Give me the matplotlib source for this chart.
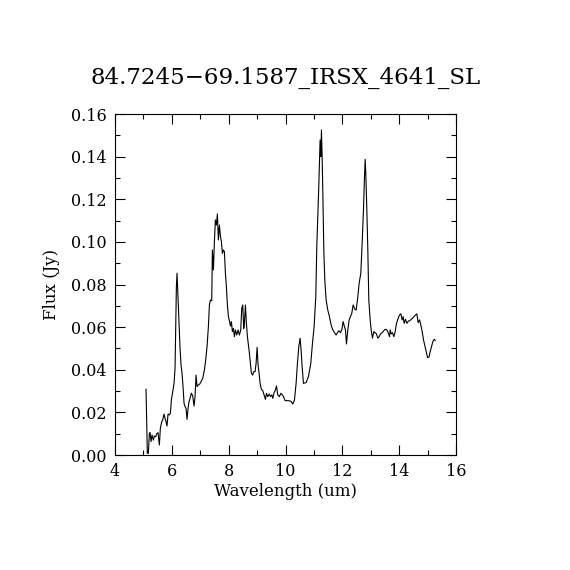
import matplotlib
matplotlib.use("Agg")
import matplotlib.pyplot as plt
from matplotlib.ticker import MultipleLocator

title = "84.7245\u221269.1587_IRSX_4641_SL"

wavelength = [
    5.092, 5.115, 5.138, 5.174, 5.209, 5.232, 5.268, 5.303, 5.350, 5.385,
    5.432, 5.467, 5.514, 5.561, 5.596, 5.643, 5.678, 5.725, 5.761, 5.796,
    5.831, 5.866, 5.913, 5.948, 5.984, 6.031, 6.078, 6.113, 6.136, 6.160,
    6.183, 6.218, 6.254, 6.289, 6.324, 6.359, 6.394, 6.430, 6.465, 6.500,
    6.535, 6.571, 6.606, 6.641, 6.688, 6.735, 6.782, 6.817, 6.852, 6.887,
    6.934, 6.981, 7.028, 7.087, 7.146, 7.192, 7.239, 7.286, 7.322, 7.357,
    7.404, 7.427, 7.463, 7.498, 7.533, 7.568, 7.603, 7.638, 7.674, 7.709,
    7.744, 7.779, 7.815, 7.850, 7.885, 7.920, 7.955, 7.991, 8.026, 8.061,
    8.096, 8.131, 8.167, 8.202, 8.237, 8.284, 8.331, 8.378, 8.425, 8.460,
    8.495, 8.531, 8.554, 8.589, 8.624, 8.660, 8.695, 8.730, 8.765, 8.801,
    8.847, 8.883, 8.930, 8.965, 9.000, 9.035, 9.071, 9.106, 9.153, 9.200,
    9.247, 9.294, 9.329, 9.376, 9.423, 9.470, 9.517, 9.552, 9.599, 9.646,
    9.681, 9.728, 9.786, 9.833, 9.892, 9.939, 9.986, 10.103, 10.197, 10.256,
    10.315, 10.373, 10.420, 10.467, 10.514, 10.549, 10.585, 10.632, 10.725, 10.808,
    10.890, 10.949, 11.007, 11.066, 11.101, 11.160, 11.195, 11.218, 11.242, 11.265,
    11.289, 11.312, 11.348, 11.383, 11.430, 11.488, 11.547, 11.606, 11.664, 11.723,
    11.782, 11.829, 11.876, 11.934, 11.981, 12.028, 12.075, 12.110, 12.146, 12.193,
    12.240, 12.287, 12.333, 12.380, 12.439, 12.486, 12.545, 12.592, 12.650, 12.697,
    12.744, 12.780, 12.803, 12.826, 12.862, 12.897, 12.932, 12.979, 13.014, 13.061,
    13.108, 13.155, 13.202, 13.249, 13.296, 13.343, 13.402, 13.460, 13.507, 13.566,
    13.613, 13.660, 13.683, 13.718, 13.765, 13.812, 13.859, 13.906, 13.953, 14.012,
    14.059, 14.106, 14.141, 14.176, 14.223, 14.270, 14.329, 14.376, 14.423, 14.470,
    14.517, 14.575, 14.622, 14.669, 14.716, 14.763, 14.810, 14.857, 14.904, 14.951,
    14.998, 15.045, 15.092, 15.138, 15.185, 15.232, 15.268,
]

flux = [
    0.0308, 0.0156, 0.0008, 0.0008, 0.0102, 0.0105, 0.0063, 0.0094, 0.0070, 0.0089,
    0.0086, 0.0099, 0.0105, 0.0047, 0.0125, 0.0156, 0.0164, 0.0192, 0.0172, 0.0156,
    0.0136, 0.0192, 0.0188, 0.0196, 0.0258, 0.0297, 0.0336, 0.0407, 0.0610, 0.0790,
    0.0853, 0.0743, 0.0618, 0.0501, 0.0422, 0.0383, 0.0321, 0.0242, 0.0227, 0.0219,
    0.0167, 0.0219, 0.0250, 0.0266, 0.0290, 0.0277, 0.0230, 0.0274, 0.0375, 0.0321,
    0.0329, 0.0333, 0.0344, 0.0360, 0.0399, 0.0446, 0.0508, 0.0602, 0.0704, 0.0727,
    0.0724, 0.0962, 0.0868, 0.1001, 0.1103, 0.1079, 0.1131, 0.1009, 0.1079, 0.1028,
    0.1001, 0.0946, 0.0962, 0.0954, 0.0853, 0.0790, 0.0704, 0.0649, 0.0630, 0.0605,
    0.0626, 0.0579, 0.0594, 0.0555, 0.0587, 0.0563, 0.0587, 0.0563, 0.0587, 0.0688,
    0.0704, 0.0594, 0.0618, 0.0704, 0.0618, 0.0555, 0.0516, 0.0477, 0.0430, 0.0383,
    0.0375, 0.0391, 0.0391, 0.0430, 0.0505, 0.0422, 0.0383, 0.0336, 0.0308, 0.0302,
    0.0282, 0.0261, 0.0289, 0.0274, 0.0286, 0.0274, 0.0282, 0.0266, 0.0293, 0.0305,
    0.0324, 0.0282, 0.0274, 0.0289, 0.0282, 0.0271, 0.0255, 0.0255, 0.0252, 0.0239,
    0.0258, 0.0336, 0.0430, 0.0508, 0.0548, 0.0493, 0.0415, 0.0336, 0.0340, 0.0368,
    0.0430, 0.0524, 0.0602, 0.0743, 0.0978, 0.1212, 0.1369, 0.1478, 0.1400, 0.1525,
    0.1400, 0.1244, 0.0962, 0.0821, 0.0727, 0.0680, 0.0649, 0.0610, 0.0587, 0.0574,
    0.0563, 0.0574, 0.0583, 0.0574, 0.0587, 0.0626, 0.0602, 0.0587, 0.0521, 0.0587,
    0.0634, 0.0649, 0.0665, 0.0704, 0.0684, 0.0680, 0.0743, 0.0806, 0.0853, 0.0993,
    0.1150, 0.1306, 0.1387, 0.1322, 0.1150, 0.0962, 0.0727, 0.0634, 0.0587, 0.0548,
    0.0579, 0.0574, 0.0568, 0.0548, 0.0555, 0.0568, 0.0574, 0.0583, 0.0590, 0.0587,
    0.0574, 0.0555, 0.0587, 0.0568, 0.0574, 0.0555, 0.0579, 0.0618, 0.0637, 0.0657,
    0.0662, 0.0634, 0.0649, 0.0618, 0.0637, 0.0618, 0.0629, 0.0630, 0.0637, 0.0641,
    0.0649, 0.0657, 0.0662, 0.0621, 0.0634, 0.0610, 0.0579, 0.0540, 0.0512, 0.0485,
    0.0458, 0.0458, 0.0485, 0.0508, 0.0532, 0.0543, 0.0537,
]

plt.rcParams["font.family"] = ["DejaVu Serif"]

fig = plt.figure(figsize=(5.7, 5.7), dpi=100)
ax = fig.add_axes([115 / 570, 115 / 570, 341 / 570, 341 / 570])

ax.plot(wavelength, flux, color="black", linewidth=0.8)

ax.set_xlim(4, 16)
ax.set_ylim(0, 0.16)
ax.xaxis.set_major_locator(MultipleLocator(2))
ax.xaxis.set_minor_locator(MultipleLocator(1))
ax.yaxis.set_major_locator(MultipleLocator(0.02))
ax.yaxis.set_minor_locator(MultipleLocator(0.01))
ax.yaxis.set_major_formatter(plt.FormatStrFormatter("%.2f"))

ax.tick_params(which="both", direction="in", top=True, right=True, width=0.8)
ax.tick_params(which="major", length=7, labelsize=11.5, pad=6)
ax.tick_params(which="minor", length=3.5)
for s in ax.spines.values():
    s.set_linewidth(0.8)

ax.set_xlabel("Wavelength (um)", fontsize=12, labelpad=2)
ax.set_ylabel("Flux (Jy)", fontsize=12, labelpad=8)
ax.set_title(title, fontsize=16.5, pad=22)

fig.savefig("out.png", dpi=100)
